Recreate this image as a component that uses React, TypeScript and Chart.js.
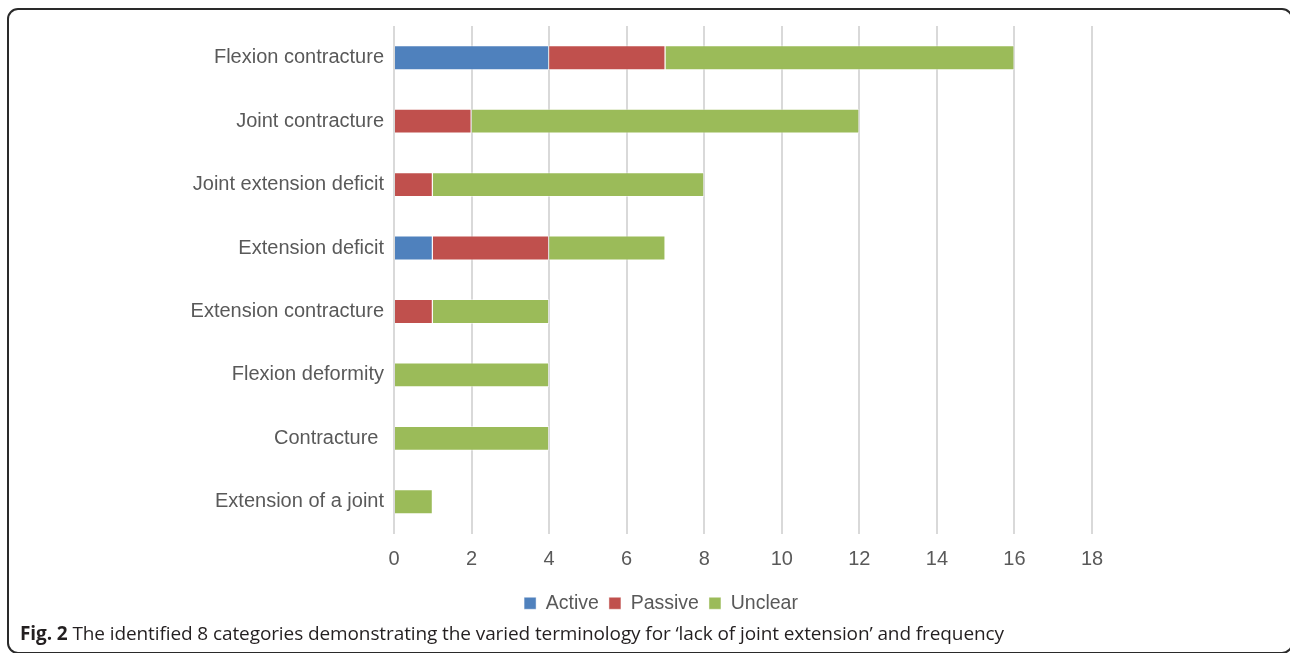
import React, { useEffect, useRef } from "react";
import { Chart, registerables } from "chart.js";

Chart.register(...registerables);

const categories = [
  "Flexion contracture",
  "Joint contracture",
  "Joint extension deficit",
  "Extension deficit",
  "Extension contracture",
  "Flexion deformity",
  "Contracture ",
  "Extension of a joint",
];
const activeValues = [4, 0, 0, 1, 0, 0, 0, 0];
const passiveValues = [3, 2, 1, 3, 1, 0, 0, 0];
const unclearValues = [9, 10, 7, 3, 3, 4, 4, 1];
const xTicks = [0, 2, 4, 6, 8, 10, 12, 14, 16, 18];

const FONT = "'Liberation Sans', Arial, Helvetica, sans-serif";

const legendShift = {
  id: "legendShift",
  afterLayout(chart: any) {
    const lg = chart.legend;
    if (lg) {
      lg.left += 115;
      lg.right += 115;
    }
  },
};

export default function App() {
  const ref = useRef<HTMLCanvasElement | null>(null);

  useEffect(() => {
    if (!ref.current) return;
    const chart = new Chart(ref.current, {
      type: "bar",
      data: {
        labels: categories,
        datasets: [
          { label: "Active", data: activeValues, backgroundColor: "#4f81bd", borderColor: "rgba(255,255,255,0.45)", borderWidth: 1 },
          { label: "Passive", data: passiveValues, backgroundColor: "#c0504d", borderColor: "rgba(255,255,255,0.45)", borderWidth: 1 },
          { label: "Unclear", data: unclearValues, backgroundColor: "#9bbb59", borderColor: "rgba(255,255,255,0.45)", borderWidth: 1 },
        ],
      },
      options: {
        indexAxis: "y",
        animation: false,
        responsive: false,
        maintainAspectRatio: false,
        layout: { padding: { top: 26, right: 198, left: 0, bottom: 0 } },
        datasets: { bar: { categoryPercentage: 0.8, barPercentage: 0.49 } },
        scales: {
          x: {
            stacked: true,
            min: 0,
            max: 18,
            afterBuildTicks: (scale: any) => {
              scale.ticks = xTicks.map((v) => ({ value: v }));
            },
            afterFit: (scale: any) => {
              scale.height = 50;
            },
            grid: { color: "#d9d9d9", lineWidth: 2, drawTicks: false },
            border: { display: false },
            ticks: { color: "#595959", font: { family: FONT, size: 20 }, padding: 14 },
          },
          y: {
            stacked: true,
            afterFit: (scale: any) => {
              scale.width = 394;
            },
            grid: { display: false, drawTicks: false },
            border: { display: false },
            ticks: { color: "#595959", font: { family: FONT, size: 20 }, padding: 10 },
          },
        },
        plugins: {
          legend: {
            position: "bottom",
            labels: {
              color: "#595959",
              font: { family: FONT, size: 19.5 },
              boxWidth: 12,
              boxHeight: 12,
              padding: 10,
            },
          },
          tooltip: { enabled: false },
        },
      },
      plugins: [legendShift],
    });
    return () => chart.destroy();
  }, []);

  return (
    <div style={{ position: "fixed", left: 0, top: 0, width: 1290, height: 653, overflow: "hidden", background: "#fff" }}>
      <div
        style={{
          position: "absolute",
          left: 7,
          top: 8,
          width: 1286,
          height: 646,
          boxSizing: "border-box",
          border: "2px solid #2a2a2a",
          borderRadius: 11,
        }}
      />
      <canvas ref={ref} width={1290} height={623} style={{ position: "absolute", left: 0, top: 0, width: 1290, height: 623 }} />
      <div
        style={{
          position: "absolute",
          left: 20,
          top: 620,
          fontFamily: "'Open Sans', sans-serif",
          fontSize: 19,
          color: "#231f20",
          whiteSpace: "nowrap",
          letterSpacing: -0.1,
        }}
      >
        <b>Fig. 2</b> The identified 8 categories demonstrating the varied terminology for ‘lack of joint extension’ and frequency
      </div>
    </div>
  );
}
